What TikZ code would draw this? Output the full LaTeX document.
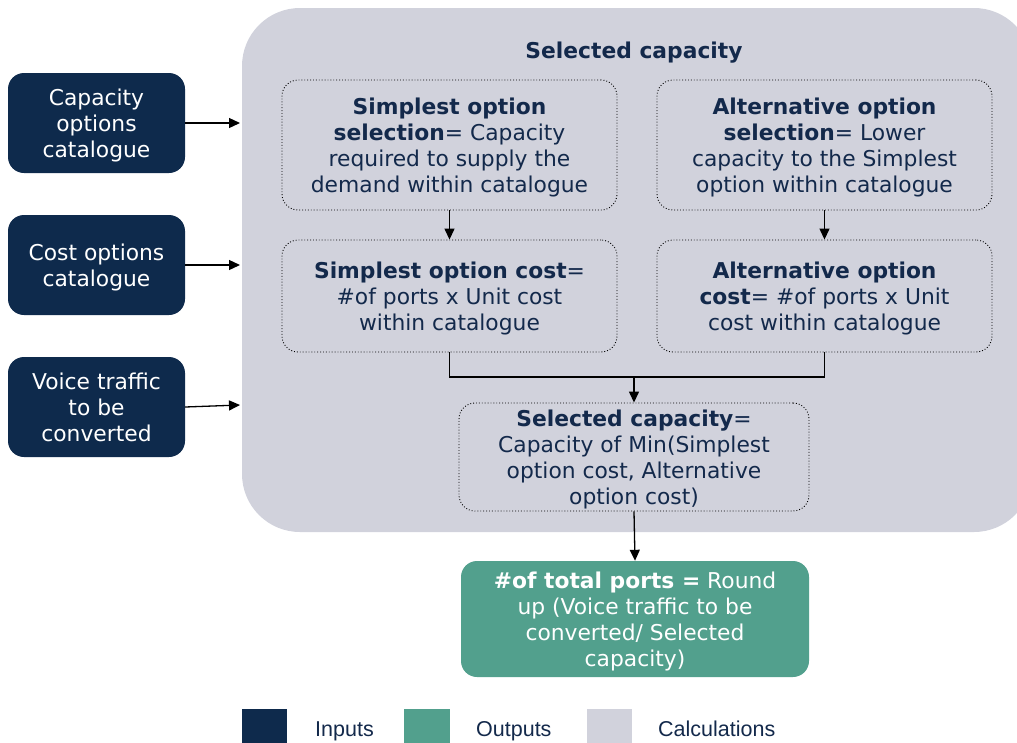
\documentclass[tikz,border=0pt]{standalone}
\usepackage{fontspec}
\setmainfont{DejaVu Sans}
\newfontfamily\legendfont{Liberation Sans}
\usetikzlibrary{arrows.meta}

\definecolor{inputblue}{HTML}{0E2A4C}
\definecolor{outputgreen}{HTML}{52A08D}
\definecolor{calcgrey}{HTML}{D1D2DC}
\definecolor{textnavy}{HTML}{13294B}

% centred lines, set a little lower inside their box
\newcommand{\boxlines}[1]{\raisebox{-3pt}[\height][\depth]{\begin{tabular}{@{}c@{}}#1\end{tabular}}}

\begin{document}
\begin{tikzpicture}[x=1pt,y=-1pt,
  boxfont/.style={font=\fontsize{21.8}{26}\selectfont},
  inputbox/.style={boxfont,fill=inputblue,text=white,rounded corners=16,
    minimum width=177,minimum height=100,inner sep=0},
  calcbox/.style={boxfont,draw=black,dotted,line width=0.9,text=textnavy,
    rounded corners=16,minimum width=335,inner sep=0},
  outbox/.style={boxfont,fill=outputgreen,text=white,rounded corners=16,
    minimum width=348,minimum height=116,inner sep=0},
  arr/.style={line width=1.3,-{Triangle[length=11,width=10]}},
  link/.style={line width=1.3},
  legendtext/.style={font=\legendfont\fontsize{21.5}{26}\selectfont,text=textnavy,anchor=base west,inner sep=0}]
\useasboundingbox (0,0) rectangle (1017,742);
\clip (0,0) rectangle (1017,742);
% calculation area
\node[fill=calcgrey,rounded corners=58,minimum width=790,minimum height=524,inner sep=0] (area) at (637,270) {};
\node[boxfont,text=textnavy] (title) at (634,53) {\textbf{Selected capacity}};
% inputs
\node[inputbox] (capcat) at (96.5,123) {\boxlines{Capacity\\options\\catalogue}};
\node[inputbox] (costcat) at (96.5,265) {\boxlines{Cost options\\catalogue}};
\node[inputbox] (voice) at (96.5,407) {\boxlines{Voice traffic\\to be\\converted}};
\coordinate (capin) at (240,123);
\coordinate (costin) at (240,265);
\coordinate (voicein) at (240,405);
\draw[arr] (capcat.east) -- (capin);
\draw[arr] (costcat.east) -- (costin);
\draw[arr] (voice.east) -- (voicein);
% calculation steps
\node[calcbox,minimum height=130] (simpsel) at (449.5,145) {\boxlines{\textbf{Simplest option}\\\textbf{selection}= Capacity\\required to supply the\\demand within catalogue}};
\node[calcbox,minimum height=130] (altsel) at (824.5,145) {\boxlines{\textbf{Alternative option}\\\textbf{selection}= Lower\\capacity to the Simplest\\option within catalogue}};
\node[calcbox,minimum height=112] (simpcost) at (449.5,296) {\boxlines{\textbf{Simplest option cost}=\\\#of ports x Unit cost\\within catalogue}};
\node[calcbox,minimum height=112] (altcost) at (824.5,296) {\boxlines{\textbf{Alternative option}\\\textbf{cost}= \#of ports x Unit\\cost within catalogue}};
\node[calcbox,minimum width=350,minimum height=108] (selcap) at (634,457) {\boxlines{\textbf{Selected capacity}=\\Capacity of Min(Simplest\\option cost, Alternative\\option cost)}};
\draw[arr] (simpsel.south) -- (simpcost.north);
\draw[arr] (altsel.south) -- (altcost.north);
\coordinate (join) at (634,377);
\draw[link] (simpcost.south) |- (join) -| (altcost.south);
\draw[arr] (join) -- (selcap.north);
% output
\node[outbox] (ports) at (635,619) {\boxlines{\textbf{\#of total ports =} Round\\up (Voice traffic to be\\converted/ Selected\\capacity)}};
\draw[arr] (selcap.south) -- (ports.north);
% legend
\fill[inputblue] (242,709) rectangle (287,745);
\node[legendtext] (leginput) at (315,736) {Inputs};
\fill[outputgreen] (404,709) rectangle (450,745);
\node[legendtext] (legoutput) at (476,736) {Outputs};
\fill[calcgrey] (587,709) rectangle (632,745);
\node[legendtext] (legcalc) at (658,736) {Calculations};
\end{tikzpicture}
\end{document}
